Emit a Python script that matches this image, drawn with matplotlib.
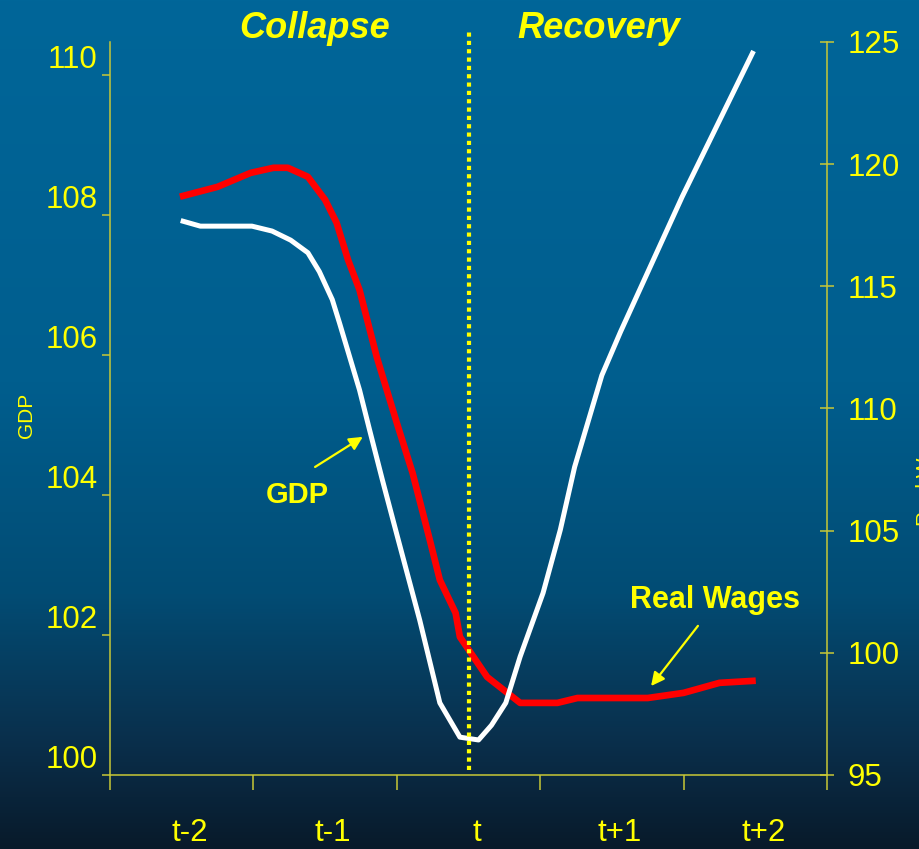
import numpy as np
import matplotlib
matplotlib.use('Agg')
import matplotlib.pyplot as plt
from matplotlib.transforms import ScaledTranslation

plt.rcParams['font.family'] = ['Liberation Sans', 'DejaVu Sans']

# Periodos (eje de categorias) y series
periodos = ['t-2', 't-1', 't', 't+1', 't+2']

x_pib = [0.51, 0.63, 0.99, 1.13, 1.26, 1.38, 1.46, 1.55, 1.60, 1.74, 1.81,
         1.90, 2.01, 2.16, 2.30, 2.44, 2.57, 2.66, 2.76, 2.86, 3.02, 3.14,
         3.24, 3.43, 3.56, 3.99, 4.48]
pib = [107.91, 107.84, 107.84, 107.77, 107.64, 107.46, 107.19, 106.79,
       106.46, 105.50, 104.93, 104.21, 103.36, 102.21, 101.03, 100.54,
       100.50, 100.71, 101.03, 101.69, 102.60, 103.50, 104.40, 105.71,
       106.33, 108.26, 110.31]

x_sal = [0.51, 0.75, 0.98, 1.14, 1.24, 1.38, 1.50, 1.58, 1.66, 1.74, 1.86,
         2.00, 2.11, 2.23, 2.30, 2.41, 2.44, 2.63, 2.86, 3.12, 3.26, 3.75,
         4.00, 4.25, 4.48]
salarios = [118.70, 119.07, 119.64, 119.85, 119.85, 119.48, 118.54, 117.60,
            116.08, 114.85, 112.11, 109.41, 107.36, 104.62, 102.98, 101.63,
            100.65, 99.01, 97.95, 97.95, 98.15, 98.15, 98.36, 98.77, 98.85]

ticks_pib = [100, 102, 104, 106, 108, 110]
ticks_sal = [95, 100, 105, 110, 115, 120, 125]

AMARILLO = '#ffff00'
EJE = '#c8c836'
TAM = 22.5

fig = plt.figure(figsize=(9.19, 8.49), dpi=100)

# fondo degradado azul
fondo = fig.add_axes([0, 0, 1, 1], zorder=-10)
paradas = [0.0, 0.45, 0.7, 0.88, 1.0]
cols = np.array([[0, 102, 153], [0, 94, 142], [2, 76, 116], [10, 46, 74],
                 [8, 26, 42]]) / 255.0
t = np.linspace(0, 1, 400)
grad = np.stack([np.interp(t, paradas, cols[:, i]) for i in range(3)], axis=1)
fondo.imshow(grad[:, None, :], aspect='auto', extent=[0, 1, 0, 1])
fondo.set_axis_off()

ax2 = fig.add_axes([0.1197, 0.0872, 0.7802, 0.8634])
ax = fig.add_axes([0.1197, 0.0872, 0.7802, 0.8634])
ax.set_zorder(ax2.get_zorder() + 1)
ax.patch.set_visible(False)
ax2.patch.set_visible(False)

# salarios reales (eje derecho)
ax2.plot(x_sal, salarios, color='#ff0000', lw=4.8, solid_joinstyle='round')
ax2.set_xlim(0, 5)
ax2.set_xticks([])
ax2.set_ylim(95, 125)
ax2.set_yticks(ticks_sal)
ax2.yaxis.tick_right()
ax2.tick_params(axis='y', direction='inout', length=10, width=1.1, color=EJE,
                labelcolor=AMARILLO, labelsize=TAM, pad=10)
for s in ['top', 'left', 'bottom']:
    ax2.spines[s].set_visible(False)
ax2.spines['right'].set_color(EJE)
ax2.spines['right'].set_linewidth(1.1)

# PIB (eje izquierdo)
ax.plot(x_pib, pib, color='white', lw=3.6, solid_joinstyle='round')
ax.set_ylim(100, 100 + 733 / 70)
ax.set_yticks(ticks_pib)
ax.set_xlim(0, 5)
ax.set_xticks(range(6))
ax.set_xticks(np.arange(len(periodos)) + 0.5, minor=True)
ax.set_xticklabels([])
ax.set_xticklabels(periodos, minor=True)
ax.tick_params(axis='y', direction='out', length=6, width=1.1, color=EJE,
               labelcolor=AMARILLO, labelsize=TAM, pad=3)
ax.tick_params(axis='x', which='major', direction='out', length=11, width=1.1,
               color=EJE)
ax.tick_params(axis='x', which='minor', length=0, labelcolor=AMARILLO,
               labelsize=TAM, pad=31)
for s in ['top', 'right']:
    ax.spines[s].set_visible(False)
for s in ['left', 'bottom']:
    ax.spines[s].set_color(EJE)
    ax.spines[s].set_linewidth(1.1)

# linea punteada en t
ax.plot([2.5, 2.5], [100.07, 110.61], color=AMARILLO, lw=3,
        linestyle=(0, (1, 1)), dash_capstyle='butt', clip_on=False)

ax.set_ylabel('GDP', color=AMARILLO, fontsize=15)
ax.yaxis.set_label_coords(-0.1035, 0.49)

ax.text(1.43, 110.67, 'Collapse', color=AMARILLO, fontsize=26,
        fontweight='bold', fontstyle='italic', ha='center', va='center')
ax.text(3.41, 110.67, 'Recovery', color=AMARILLO, fontsize=26,
        fontweight='bold', fontstyle='italic', ha='center', va='center')

# anotaciones con flecha
ax.annotate('', xy=(1.763, 104.83), xytext=(1.43, 104.4),
            arrowprops=dict(arrowstyle='-|>,head_length=0.8,head_width=0.4',
                            color=AMARILLO, lw=1.6, shrinkA=0, shrinkB=0))
ax.text(1.305, 104.0, 'GDP', color=AMARILLO, fontsize=21, fontweight='bold',
        ha='center', va='center')
ax.annotate('', xy=(3.773, 101.27), xytext=(4.1, 102.13),
            arrowprops=dict(arrowstyle='-|>,head_length=0.8,head_width=0.4',
                            color=AMARILLO, lw=1.6, shrinkA=0, shrinkB=0))
ax.text(4.22, 102.5, 'Real Wages', color=AMARILLO, fontsize=22,
        fontweight='bold', ha='center', va='center')

fig.text(916 / 919, 1 - 470 / 849, 'Real Wages', color=AMARILLO, fontsize=15,
         rotation=90, ha='left', va='center')

# desplazar etiquetas: izquierda hacia arriba, categorias a la derecha
for tk in ax.yaxis.get_major_ticks():
    tk.label1.set_transform(tk.label1.get_transform() +
                            ScaledTranslation(0, 18 / 100, fig.dpi_scale_trans))
for tk in ax.xaxis.get_minor_ticks():
    tk.label1.set_transform(tk.label1.get_transform() +
                            ScaledTranslation(8 / 100, 0, fig.dpi_scale_trans))

fig.savefig('out.png', dpi=100)
